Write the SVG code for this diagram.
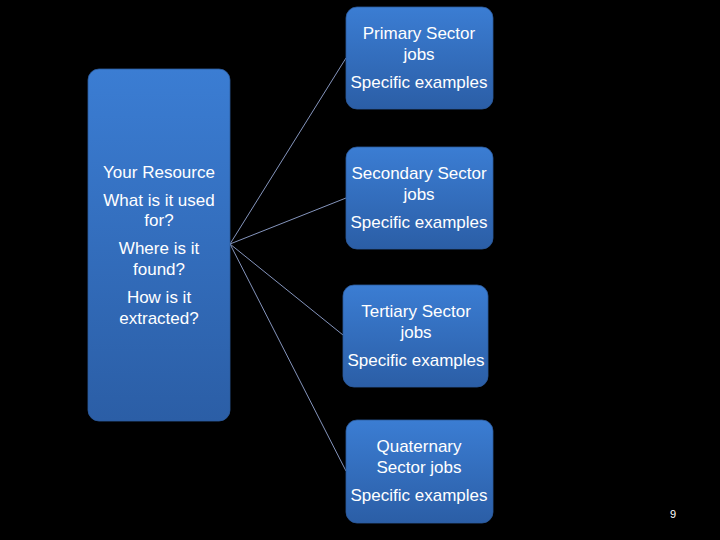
<svg xmlns="http://www.w3.org/2000/svg" width="720" height="540" viewBox="0 0 720 540">
<defs>
<linearGradient id="g" x1="0" y1="0" x2="0" y2="1">
<stop offset="0" stop-color="#3b7dd3"/>
<stop offset="1" stop-color="#2b5ea6"/>
</linearGradient>
<style>
.box{fill:url(#g);stroke:#2c5a9c;stroke-width:0.8}
.t{font-family:"Liberation Sans","Noto Sans",sans-serif;font-size:17px;fill:#ffffff;text-anchor:middle}
.c{stroke:#8494bc;stroke-width:1;fill:none}
</style>
</defs>
<rect width="720" height="540" fill="#000000"/>
<g id="connectors">
<line class="c" x1="230" y1="244" x2="346" y2="58"/>
<line class="c" x1="230" y1="244" x2="346" y2="198"/>
<line class="c" x1="230" y1="244" x2="343" y2="335"/>
<line class="c" x1="230" y1="244" x2="346" y2="471"/>
</g>
<g id="resource">
<rect class="box" x="88" y="69" width="142" height="352" rx="11"/>
<text class="t" x="159" y="178">Your Resource</text>
<text class="t" x="159" y="206">What is it used</text>
<text class="t" x="159" y="226">for?</text>
<text class="t" x="159" y="254">Where is it</text>
<text class="t" x="159" y="275">found?</text>
<text class="t" x="159" y="303">How is it</text>
<text class="t" x="159" y="324">extracted?</text>
</g>
<g id="primary">
<rect class="box" x="346" y="7" width="147" height="102" rx="11"/>
<text class="t" x="419" y="39">Primary Sector</text>
<text class="t" x="419" y="60">jobs</text>
<text class="t" x="419" y="88">Specific examples</text>
</g>
<g id="secondary">
<rect class="box" x="346" y="147" width="147" height="102" rx="11"/>
<text class="t" x="419" y="179">Secondary Sector</text>
<text class="t" x="419" y="200">jobs</text>
<text class="t" x="419" y="228">Specific examples</text>
</g>
<g id="tertiary">
<rect class="box" x="343" y="285" width="145" height="102" rx="11"/>
<text class="t" x="416" y="317">Tertiary Sector</text>
<text class="t" x="416" y="338">jobs</text>
<text class="t" x="416" y="366">Specific examples</text>
</g>
<g id="quaternary">
<rect class="box" x="346" y="420" width="147" height="103" rx="11"/>
<text class="t" x="419" y="452">Quaternary</text>
<text class="t" x="419" y="473">Sector jobs</text>
<text class="t" x="419" y="501">Specific examples</text>
</g>
<text x="673" y="518" font-family="Liberation Sans, sans-serif" font-size="11" fill="#ffffff" text-anchor="middle">9</text>
</svg>
